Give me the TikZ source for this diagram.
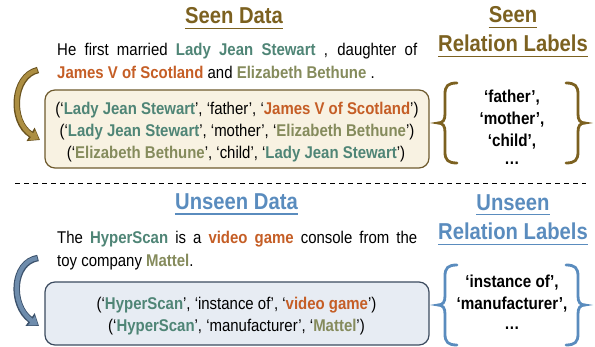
\documentclass[tikz,border=0pt]{standalone}
\usepackage{fontspec}
\setmainfont{Liberation Sans}[FakeStretch=0.88]
\usetikzlibrary{arrows.meta}
\definecolor{cteal}{RGB}{79,133,118}
\definecolor{corange}{RGB}{197,94,38}
\definecolor{colive}{RGB}{133,139,92}
\definecolor{cbrown}{RGB}{124,97,32}
\definecolor{cblue}{RGB}{90,140,190}
\definecolor{boxfillA}{RGB}{248,242,226}
\definecolor{boxdrawA}{RGB}{110,90,45}
\definecolor{boxfillB}{RGB}{231,236,243}
\definecolor{boxdrawB}{RGB}{60,75,95}
\definecolor{arrAin}{RGB}{172,142,66}
\definecolor{arrAout}{RGB}{105,82,30}
\definecolor{arrBin}{RGB}{110,140,172}
\definecolor{arrBout}{RGB}{60,82,108}
\newcommand{\ea}[1]{\textbf{\color{cteal}#1}}
\newcommand{\eb}[1]{\textbf{\color{corange}#1}}
\newcommand{\ec}[1]{\textbf{\color{colive}#1}}
\tikzset{
  title/.style={font=\fontsize{23}{27}\selectfont\bfseries, inner sep=0pt, anchor=base},
  body/.style={font=\fontsize{17}{21}\selectfont, inner sep=0pt, anchor=base west},
  tup/.style={font=\fontsize{17}{21}\selectfont, inner sep=0pt, anchor=base},
  lab/.style={font=\fontsize{17.3}{21}\selectfont\bfseries, inner sep=0pt, anchor=base},
  uline/.style={line width=1.4pt},
  boxA/.style={draw=boxdrawA, fill=boxfillA, line width=1.2pt, rounded corners=10pt, inner sep=0pt},
  boxB/.style={draw=boxdrawB, fill=boxfillB, line width=1.2pt, rounded corners=10pt, inner sep=0pt},
  sepline/.style={line width=1.1pt, dash pattern=on 5pt off 4pt},
  bracepic/.pic={\draw[line width=2.8pt, line cap=round, pic actions]
    (0,-40) .. controls (-9,-40) and (-12,-37) .. (-12,-29) -- (-12,-9)
    .. controls (-12,-3) and (-14,0) .. (-19,0)
    .. controls (-14,0) and (-12,3) .. (-12,9) -- (-12,29)
    .. controls (-12,37) and (-9,40) .. (0,40);}
}
\begin{document}
\begin{tikzpicture}[x=1pt,y=-1pt]
\useasboundingbox (0,0) rectangle (595,347);

% ---------- Seen part ----------
\node[title, cbrown] (tSeen) at (234,24) {Seen Data};
\draw[uline, cbrown] ([yshift=-4.5pt]tSeen.base west) -- ([yshift=-4.5pt]tSeen.base east);
\node[title, cbrown] (tSR1) at (513,23) {Seen};
\draw[uline, cbrown] ([yshift=-4.5pt]tSR1.base west) -- ([yshift=-4.5pt]tSR1.base east);
\node[title, cbrown] (tSR2) at (513,52) {Relation Labels};
\draw[uline, cbrown] ([yshift=-4.5pt]tSR2.base west) -- ([yshift=-4.5pt]tSR2.base east);

\node[body] (s1) at (57,55.7) {\makebox[360pt][s]{He first married \ea{Lady Jean Stewart} , daughter of}};
\node[body] (s2) at (57,78.3) {\eb{James V of Scotland} and \ec{Elizabeth Bethune} .};

\node[boxA, minimum width=384pt, minimum height=78pt] (boxS) at (237,129) {};
\node[tup] (ts1) at (237,115) {(‘\ea{Lady Jean Stewart}’, ‘father’, ‘\eb{James V of Scotland}’)};
\node[tup] (ts2) at (237,137) {(‘\ea{Lady Jean Stewart}’, ‘mother’, ‘\ec{Elizabeth Bethune}’)};
\node[tup] (ts3) at (236,158.5) {(‘\ec{Elizabeth Bethune}’, ‘child’, ‘\ea{Lady Jean Stewart}’)};

\coordinate (aAs) at (38,70);
\coordinate (aAe) at (40,140);
\draw[arrAout, line width=6.5pt, -{Triangle[width=15pt,length=11pt]}] (aAs) .. controls (12,76) and (10,122) .. (aAe);
\draw[arrAin, line width=4.2pt, shorten >=1.3pt, shorten <=0.9pt, -{Triangle[width=11.5pt,length=8pt]}] (aAs) .. controls (12,76) and (10,122) .. (aAe);

\pic[color=cbrown] at (457,123) {bracepic};
\pic[color=cbrown, xscale=-1] at (566,123) {bracepic};
\node[lab] (ls1) at (512,103) {‘father’,};
\node[lab] (ls2) at (512,125) {‘mother’,};
\node[lab] (ls3) at (512,146.7) {‘child’,};
\node[lab] (ls4) at (512,165) {…};

% ---------- separator ----------
\coordinate (dl) at (15,183.3);
\coordinate (dr) at (586,183.3);
\draw[sepline] (dl) -- (dr);

% ---------- Unseen part ----------
\node[title, cblue] (tUn) at (236.5,210) {Unseen Data};
\draw[uline, cblue] ([yshift=-4pt]tUn.base west) -- ([yshift=-4pt]tUn.base east);
\node[title, cblue] (tUR1) at (513,210.5) {Unseen};
\draw[uline, cblue] ([yshift=-4pt]tUR1.base west) -- ([yshift=-4pt]tUR1.base east);
\node[title, cblue] (tUR2) at (513,240) {Relation Labels};
\draw[uline, cblue] ([yshift=-4.5pt]tUR2.base west) -- ([yshift=-4.5pt]tUR2.base east);

\node[body] (u1) at (57,244) {\makebox[360pt][s]{The \ea{HyperScan} is a \eb{video game} console from the}};
\node[body] (u2) at (57,266.7) {toy company \ec{Mattel}.};

\node[boxB, minimum width=384pt, minimum height=63pt] (boxU) at (237,313.5) {};
\node[tup] (tu1) at (236.5,310) {(‘\ea{HyperScan}’, ‘instance of’, ‘\eb{video game}’)};
\node[tup] (tu2) at (236.5,331.7) {(‘\ea{HyperScan}’, ‘manufacturer’, ‘\ec{Mattel}’)};

\coordinate (aBs) at (38,258);
\coordinate (aBe) at (39,326);
\draw[arrBout, line width=6.5pt, -{Triangle[width=15pt,length=11pt]}] (aBs) .. controls (12,262) and (10,305) .. (aBe);
\draw[arrBin, line width=4.2pt, shorten >=1.3pt, shorten <=0.9pt, -{Triangle[width=11.5pt,length=8pt]}] (aBs) .. controls (12,262) and (10,305) .. (aBe);

\pic[color=cblue] at (457,305) {bracepic};
\pic[color=cblue, xscale=-1] at (566,305) {bracepic};
\node[lab] (lu1) at (512,288) {‘instance of’,};
\node[lab] (lu2) at (512,310) {‘manufacturer’,};
\node[lab] (lu3) at (512,330) {…};
\end{tikzpicture}
\end{document}
